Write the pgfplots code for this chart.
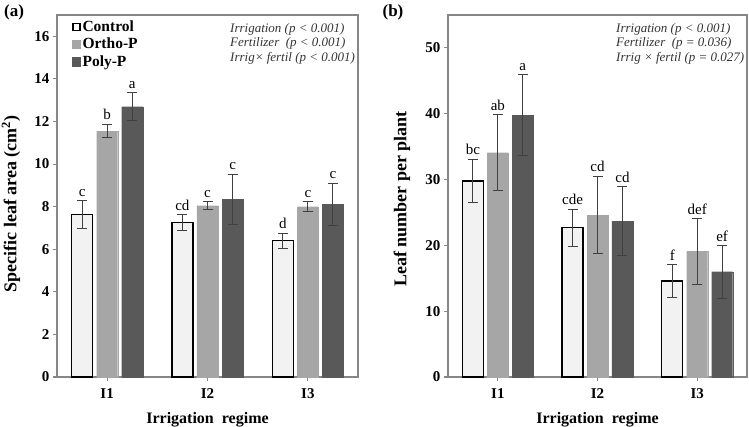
\documentclass[border=0pt]{standalone}
\usepackage{fontspec}
\setmainfont{Liberation Serif}
\usepackage{pgfplots}
\usepackage{pgfplotstable}
\pgfplotsset{compat=1.18}
\definecolor{ctrl}{HTML}{F2F2F2}
\definecolor{ortho}{HTML}{A6A6A6}
\definecolor{poly}{HTML}{595959}
\definecolor{framec}{HTML}{878787}
\definecolor{errc}{HTML}{404040}
\definecolor{annc}{HTML}{333333}

% panel (a)
\pgfplotstableread{
x y e
0.75 7.62 0.65
1.75 7.25 0.37
2.75 6.40 0.35
}\actrl
\pgfplotstableread{
x y e
1 11.55 0.32
2 8.05 0.18
3 8.00 0.23
}\aortho
\pgfplotstableread{
x y e
1.25 12.70 0.65
2.25 8.35 1.18
3.25 8.10 1.00
}\apoly
\pgfplotstableread{
x t l
0.75 8.27 c
1.75 7.62 cd
2.75 6.75 d
1 11.87 b
2 8.23 c
3 8.23 c
1.25 13.35 a
2.25 9.53 c
3.25 9.10 c
}\alet
% panel (b)
\pgfplotstableread{
x y e
0.75 29.8 3.3
1.75 22.7 2.8
2.75 14.6 2.5
}\bctrl
\pgfplotstableread{
x y e
1 34.1 5.8
2 24.6 5.9
3 19.1 5.0
}\bortho
\pgfplotstableread{
x y e
1.25 39.8 6.1
2.25 23.7 5.2
3.25 16.0 4.0
}\bpoly
\pgfplotstableread{
x t l
0.75 33.1 bc
1.75 25.5 cde
2.75 17.1 f
1 39.9 ab
2 30.5 cd
3 24.1 def
1.25 45.9 a
2.25 28.9 cd
3.25 20.0 ef
}\blet

\pgfplotsset{
 myaxis/.style={
  scale only axis, anchor=south west,
  height=362pt,
  xmin=0.5, xmax=3.5, ymin=0,
  xtick={1,2,3}, xticklabels={I1,I2,I3},
  tick align=outside, xtick pos=left, ytick pos=left,
  major tick length=4pt,
  axis line style={framec, line width=1.1pt},
  every tick/.style={framec, line width=1.1pt},
  /pgf/number format/assume math mode=true,
  tick label style={font=\fontsize{15}{17}\selectfont\bfseries},
  xticklabel style={yshift=-4pt},
  xlabel style={font=\fontsize{16}{19}\selectfont\bfseries},
  ylabel style={font=\fontsize{18}{21}\selectfont\bfseries},
  xlabel={Irrigation\ \ regime},
  xlabel style={at={(axis description cs:0.5,-0.119)}, anchor=center},
  legend style={draw=none, fill=none, at={(0.05,0.99)}, anchor=north west,
    font=\fontsize{15.5}{18}\selectfont\bfseries, inner sep=0pt, row sep=1pt,
    cells={anchor=west}},
  legend cell align=left,
 },
 barp/.style={ybar, bar width=0.21, bar shift=0pt,
   error bars/y dir=both, error bars/y explicit,
   error bars/error bar style={errc, line width=1pt},
   error bars/error mark options={rotate=90, mark size=5pt, errc, line width=1pt}},
 ctrlbar/.style={barp, fill=ctrl, draw=black, line width=1.3pt,
   legend image code/.code={\draw[fill=white,draw=black,line width=1.2pt] (0pt,-3.5pt) rectangle (7pt,3.5pt);}},
 orthobar/.style={barp, fill=ortho, draw=ortho, line width=0.1pt,
   legend image code/.code={\fill[ortho] (-0.6pt,-4.1pt) rectangle (7.6pt,4.1pt);}},
 polybar/.style={barp, fill=poly, draw=poly, line width=0.1pt,
   legend image code/.code={\fill[poly] (-0.6pt,-4.1pt) rectangle (7.6pt,4.1pt);}},
 letp/.style={only marks, mark=none, forget plot, nodes near coords,
   point meta=explicit symbolic,
   every node near coord/.append style={anchor=south, yshift=3pt, inner sep=1pt,
     text=black, font=\fontsize{15}{17}\selectfont}},
}

\begin{document}
\begin{tikzpicture}
\path[use as bounding box] (0pt,0pt) rectangle (749pt,426pt);

\begin{axis}[myaxis, at={(57pt,49pt)}, width=301pt,
  ymax=17, ytick={0,2,...,16},
  ylabel={Specific leaf area (cm\textsuperscript{2})},
  ylabel style={at={(axis description cs:-0.153,0.478)}, anchor=center}]
\addplot[ctrlbar] table[x=x,y=y,y error=e] {\actrl};
\addlegendentry{Control}
\addplot[orthobar] table[x=x,y=y,y error=e] {\aortho};
\addlegendentry{Ortho-P}
\addplot[polybar] table[x=x,y=y,y error=e] {\apoly};
\addlegendentry{Poly-P}
\addplot[letp] table[x=x,y=t,meta=l] {\alet};
\end{axis}

\begin{axis}[myaxis, at={(448pt,49pt)}, width=299pt,
  ymax=55, ytick={0,10,...,50},
  ylabel={Leaf number per plant},
  ylabel style={at={(axis description cs:-0.154,0.492)}, anchor=center}]
\addplot[ctrlbar] table[x=x,y=y,y error=e] {\bctrl};
\addplot[orthobar] table[x=x,y=y,y error=e] {\bortho};
\addplot[polybar] table[x=x,y=y,y error=e] {\bpoly};
\addplot[letp] table[x=x,y=t,meta=l] {\blet};
\end{axis}

\node[font=\fontsize{17}{20}\selectfont\bfseries] at (14pt,414pt) {(a)};
\node[font=\fontsize{17}{20}\selectfont\bfseries] at (393pt,414pt) {(b)};

\node[anchor=north west, align=left, text=annc, inner sep=0pt,
  font=\fontsize{13}{14.5}\selectfont\itshape] at (230pt,403pt)
  {Irrigation (p < 0.001)\\Fertilizer\ \ (p < 0.001)\\Irrig× fertil (p < 0.001)};
\node[anchor=north west, align=left, text=annc, inner sep=0pt,
  font=\fontsize{13}{14.5}\selectfont\itshape] at (616pt,403pt)
  {Irrigation (p < 0.001)\\Fertilizer\ \ (p = 0.036)\\Irrig × fertil (p = 0.027)};
\end{tikzpicture}
\end{document}
